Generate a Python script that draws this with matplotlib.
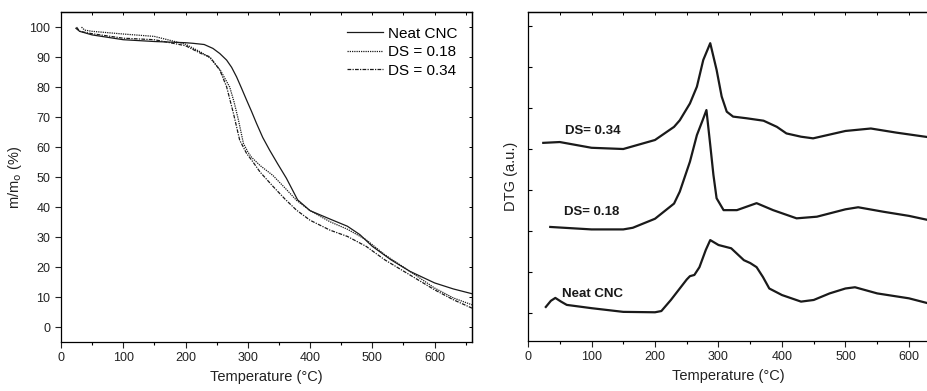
import matplotlib
matplotlib.use("Agg")
import matplotlib.pyplot as plt
from matplotlib.ticker import MultipleLocator, NullFormatter
import numpy as np

plt.rcParams['font.family'] = ['Liberation Sans', 'DejaVu Sans']

# TGA curves (left panel), temperature in C and residual mass in %
t_neat = [24, 30, 50, 100, 150, 200, 212, 230, 244, 255, 266, 274, 282, 290, 298, 306, 314,
          324, 335, 348, 362, 380, 400, 432, 460, 480, 500, 530, 560, 600, 630, 660]
m_neat = [99.6, 98.6, 97.4, 95.8, 95.2, 94.8, 94.6, 94.2, 92.9, 91.2, 89.0, 86.6, 83.4, 79.6,
          75.7, 71.9, 67.9, 63.2, 59.0, 54.4, 49.6, 42.4, 38.8, 36.0, 33.6, 30.8, 26.9, 22.4,
          18.6, 14.7, 12.7, 11.1]

t_ds18 = [33, 38, 50, 100, 150, 200, 225, 240, 256, 271, 278, 285, 293, 300, 306, 320, 340,
          360, 378, 400, 432, 460, 490, 520, 560, 600, 630, 660]
m_ds18 = [100.0, 99.0, 98.6, 97.7, 96.9, 94.3, 91.6, 89.6, 85.6, 80.0, 75.0, 69.0, 61.2, 58.4,
          56.6, 53.8, 50.6, 46.3, 42.3, 38.8, 35.1, 32.6, 29.1, 24.1, 18.6, 13.0, 9.7, 7.4]

t_ds34 = [25, 30, 50, 100, 150, 200, 225, 239, 255, 266, 277, 287, 298, 306, 320, 340, 360,
          378, 400, 432, 460, 490, 520, 560, 600, 630, 660]
m_ds34 = [100.0, 98.6, 97.8, 96.3, 95.8, 93.8, 91.2, 90.1, 85.7, 80.1, 71.2, 62.3, 57.9, 55.7,
          51.6, 47.0, 42.6, 39.0, 35.6, 32.3, 30.2, 26.9, 22.4, 17.4, 12.4, 9.1, 6.3]

# DTG curves (right panel), arbitrary units, already offset
d_t_neat = [28, 36, 43, 52, 61, 100, 150, 200, 210, 225, 240, 250, 255, 262, 270, 280, 287,
            300, 320, 340, 350, 360, 370, 380, 400, 430, 450, 475, 500, 515, 550, 600, 630]
d_neat = [0.15, 0.3, 0.37, 0.28, 0.2, 0.12, 0.03, 0.02, 0.05, 0.32, 0.62, 0.82, 0.9, 0.93,
          1.12, 1.54, 1.78, 1.66, 1.58, 1.29, 1.22, 1.12, 0.88, 0.6, 0.44, 0.28, 0.32, 0.48,
          0.6, 0.63, 0.48, 0.36, 0.24]

d_t_ds18 = [35, 100, 150, 165, 200, 230, 239, 255, 266, 275, 281, 287, 292, 297, 308, 329,
            360, 386, 423, 455, 500, 520, 560, 600, 630]
d_ds18 = [2.1, 2.04, 2.04, 2.08, 2.3, 2.67, 2.96, 3.69, 4.34, 4.7, 4.95, 4.1, 3.37, 2.8, 2.51,
          2.51, 2.68, 2.51, 2.31, 2.35, 2.53, 2.58, 2.47, 2.37, 2.27]

d_t_ds34 = [24, 50, 100, 150, 200, 230, 239, 255, 266, 276, 287, 297, 305, 313, 323, 344, 371,
            392, 407, 430, 449, 500, 540, 580, 630]
d_ds34 = [4.15, 4.17, 4.03, 4.0, 4.22, 4.54, 4.7, 5.11, 5.52, 6.17, 6.58, 5.93, 5.28, 4.91,
          4.79, 4.75, 4.69, 4.54, 4.38, 4.3, 4.26, 4.44, 4.5, 4.4, 4.29]

lab_names = ['DS= 0.34', 'DS= 0.18', 'Neat CNC']
lab_x = [58, 56, 54]
lab_y = [4.45, 2.46, 0.47]

col = '#1a1a1a'

fig = plt.figure(figsize=(9.28, 3.91), dpi=100)
ax1 = fig.add_axes([0.0657, 0.1253, 0.4429, 0.8437])
ax2 = fig.add_axes([0.569, 0.1279, 0.431, 0.8414])

ax1.plot(t_neat, m_neat, color=col, lw=0.9, ls='-', label='Neat CNC')
ax1.plot(t_ds18, m_ds18, color=col, lw=0.9, ls=(0, (1, 0.8)), label='DS = 0.18')
ax1.plot(t_ds34, m_ds34, color=col, lw=0.9, ls=(0, (3, 1, 1, 1)), label='DS = 0.34')
ax1.set_xlim(0, 660)
ax1.set_ylim(-5, 105)
ax1.xaxis.set_major_locator(MultipleLocator(100))
ax1.xaxis.set_minor_locator(MultipleLocator(50))
ax1.yaxis.set_major_locator(MultipleLocator(10))
ax1.set_xlabel('Temperature (°C)', fontsize=10.5, color='#222222')
ax1.set_ylabel(r'm/m$_\mathrm{o}$ (%)', fontsize=10.5, color='#222222')
ax1.legend(loc='upper right', frameon=False, fontsize=11, handlelength=2.4,
           labelspacing=0.3, handletextpad=0.3, borderaxespad=0.55)

ax2.plot(d_t_neat, d_neat, color=col, lw=1.6)
ax2.plot(d_t_ds18, d_ds18, color=col, lw=1.6)
ax2.plot(d_t_ds34, d_ds34, color=col, lw=1.6)
for name, x, y in zip(lab_names, lab_x, lab_y):
    ax2.text(x, y, name, fontsize=9.5, fontweight='bold', color=col, va='center')
ax2.set_xlim(0, 630)
ax2.set_ylim(-0.68, 7.34)
ax2.xaxis.set_major_locator(MultipleLocator(100))
ax2.xaxis.set_minor_locator(MultipleLocator(50))
ax2.yaxis.set_major_locator(MultipleLocator(1))
ax2.yaxis.set_major_formatter(NullFormatter())
ax2.set_xlabel('Temperature (°C)', fontsize=10.5, color='#222222')
ax2.set_ylabel('DTG (a.u.)', fontsize=10.5, color='#222222')
ax2.spines['right'].set_visible(False)

for ax in (ax1, ax2):
    ax.tick_params(axis='x', which='major', direction='out', length=4, labelsize=9,
                   colors='#222222')
    ax.tick_params(axis='x', which='minor', direction='out', length=2.5)
    ax.tick_params(axis='both', which='both', width=0.8)
    for s in ax.spines.values():
        s.set_linewidth(0.9)
    # inward ticks along the top frame
    top = ax.secondary_xaxis('top')
    top.xaxis.set_major_locator(MultipleLocator(50))
    top.xaxis.set_major_formatter(NullFormatter())
    top.tick_params(direction='in', length=2.5, width=0.7)
    top.spines['top'].set_linewidth(0.9)

ax1.tick_params(axis='y', which='major', direction='out', length=4, labelsize=9,
                colors='#222222')
right = ax1.secondary_yaxis('right')
right.yaxis.set_major_locator(MultipleLocator(10))
right.yaxis.set_major_formatter(NullFormatter())
right.tick_params(direction='in', length=2.5, width=0.7)
right.spines['right'].set_linewidth(0.9)
ax2.tick_params(axis='y', which='major', direction='in', length=3, right=False)

fig.savefig('out.png', dpi=100)
